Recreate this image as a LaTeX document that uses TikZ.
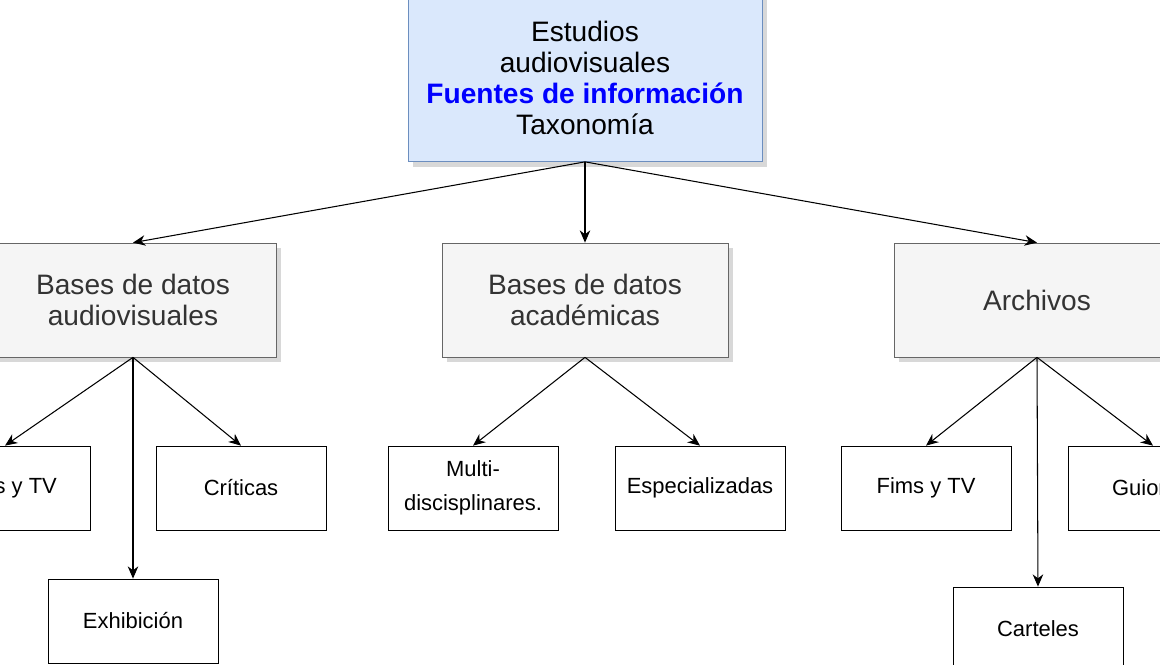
\documentclass[tikz,border=0pt]{standalone}
\usepackage{fontspec}
\setmainfont{Liberation Sans}
\usetikzlibrary{positioning, arrows.meta, shadows}
\definecolor{topfill}{HTML}{DAE8FC}
\definecolor{topline}{HTML}{6C8EBF}
\definecolor{midfill}{HTML}{F5F5F5}
\definecolor{midline}{HTML}{666666}
\definecolor{midtext}{HTML}{333333}
\definecolor{fuente}{HTML}{0000FF}

\begin{document}
\begin{tikzpicture}[x=0.02cm, y=-0.02cm,
    topbox/.style={draw=topline, fill=topfill, minimum width=354*0.02cm, minimum height=167*0.02cm, align=center, font=\fontsize{16}{17.5}\selectfont, drop shadow={shadow xshift=3pt, shadow yshift=-3pt, fill=gray!60}},
    midbox/.style={draw=midline, fill=midfill, minimum width=286*0.02cm, minimum height=114*0.02cm, align=center, font=\fontsize{16}{17.5}\selectfont, text=midtext, drop shadow={shadow xshift=3pt, shadow yshift=-3pt, fill=gray!60}},
    leaf/.style={draw, fill=white, minimum width=170*0.02cm, minimum height=84*0.02cm, align=center, font=\fontsize{12.5}{19}\selectfont},
    link/.style={-{Stealth[length=7pt, width=6pt]}, line width=0.6pt}]
    \useasboundingbox (0,0) rectangle (1160,665);
            \node[topbox] (est) at (585, 78) {Estudios\\audiovisuales\\\textbf{\textcolor{fuente}{Fuentes de información}}\\Taxonomía};

            \node[midbox] (bda) at (133, 300) {Bases de datos\\audiovisuales};
            \node[midbox] (bdac) at (585, 300) {Bases de datos\\académicas};
            \node[midbox] (arch) at (1037, 300) {Archivos};

            \node[leaf] (films) at (5, 488) {Films y TV};
            \node[leaf] (crit) at (241, 488) {Críticas};
            \node[leaf] (exhib) at (133, 621) {Exhibición};
            \node[leaf] (multi) at (473, 488) {Multi-\\discisplinares.};
            \node[leaf] (espec) at (700, 488) {Especializadas};
            \node[leaf] (fims) at (926, 488) {Fims y TV};
            \node[leaf] (guion) at (1153, 488) {Guiones};
            \node[leaf] (cart) at (1038, 629) {Carteles};

            \draw[link] (est.south) -- (bda.north);
            \draw[link] (est.south) -- (bdac.north);
            \draw[link] (est.south) -- (arch.north);
            \draw[link] (bda.south) -- (films.north);
            \draw[link] (bda.south) -- (crit.north);
            \draw[link] (bda.south) -- (exhib.north);
            \draw[link] (bdac.south) -- (multi.north);
            \draw[link] (bdac.south) -- (espec.north);
            \draw[link] (arch.south) -- (fims.north);
            \draw[link] (arch.south) -- (guion.north);
            \draw[link] (arch.south) -- (cart.north);
        \end{tikzpicture}
\end{document}
